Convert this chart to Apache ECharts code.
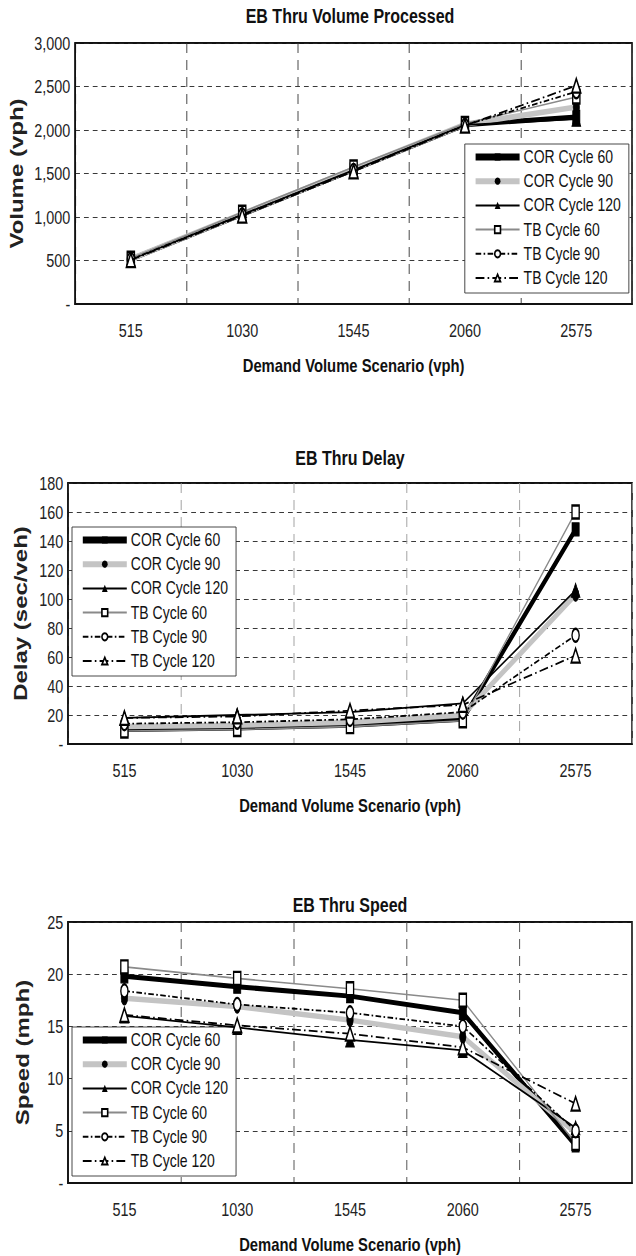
<!DOCTYPE html>
<html><head><meta charset="utf-8">
<script src="https://cdn.jsdelivr.net/npm/echarts@6/dist/echarts.min.js"></script>
<style>
html,body{margin:0;padding:0;overflow:hidden;background:#fff;width:636px;height:1256px}
#wrap{width:636px;height:1256px;overflow:hidden;position:relative}
#chart{width:795px;height:1256px;transform:scaleX(0.8);transform-origin:0 0;position:absolute;left:0;top:0}
</style></head><body><div id="wrap"><div id="chart"></div></div>
<script>
// ---- data ----
const categories = ['515', '1030', '1545', '2060', '2575'];
const seriesNames = ['COR Cycle 60', 'COR Cycle 90', 'COR Cycle 120', 'TB Cycle 60', 'TB Cycle 90', 'TB Cycle 120'];
const chartTitles = ['EB Thru Volume Processed', 'EB Thru Delay', 'EB Thru Speed'];
const yNames = ['Volume (vph)', 'Delay (sec/veh)', 'Speed (mph)'];
const xName = 'Demand Volume Scenario (vph)';
const yMax = [3000, 180, 25];
const yStep = [500, 20, 5];

const volumeCor60  = [515, 1030, 1545, 2060, 2150];
const volumeCor90  = [518, 1035, 1550, 2065, 2265];
const volumeCor120 = [513, 1028, 1540, 2058, 2125];
const volumeTb60   = [525, 1055, 1575, 2075, 2380];
const volumeTb90   = [512, 1025, 1535, 2055, 2440];
const volumeTb120  = [505, 1015, 1525, 2050, 2510];

const delayCor60  = [10, 11, 13, 17, 148];
const delayCor90  = [12, 13, 15, 20, 103];
const delayCor120 = [18, 20, 22, 28, 106];
const delayTb60   = [9, 10, 12, 16, 160];
const delayTb90   = [14, 15, 17, 22, 75];
const delayTb120  = [18, 19, 23, 27, 61];

const speedCor60  = [19.8, 18.8, 17.9, 16.3, 3.6];
const speedCor90  = [17.7, 16.9, 15.6, 14.0, 4.8];
const speedCor120 = [16.0, 14.9, 13.7, 12.7, 5.3];
const speedTb60   = [20.7, 19.6, 18.6, 17.5, 3.8];
const speedTb90   = [18.4, 17.1, 16.3, 15.0, 5.0];
const speedTb120  = [16.1, 15.1, 14.3, 13.0, 7.6];

const chartData = [
  [volumeCor60, volumeCor90, volumeCor120, volumeTb60, volumeTb90, volumeTb120],
  [delayCor60, delayCor90, delayCor120, delayTb60, delayTb90, delayTb120],
  [speedCor60, speedCor90, speedCor120, speedTb60, speedTb90, speedTb120]
];

// ---- styles / layout ----
const FONT = 'Liberation Sans, Arial, sans-serif';
const styles = [
  {line: '#000', width: 5, type: 'solid', symbol: 'rect', size: [9, 13], lw: 7},
  {line: '#c4c4c4', width: 5.5, type: 'solid', symbol: 'circle', size: [8, 13], lw: 6},
  {line: '#000', width: 1.8, type: 'solid', symbol: 'triangle', size: [11, 14], lw: 2},
  {line: '#8a8a8a', width: 1.6, type: 'solid', symbol: 'emptyRect', size: [9, 13], lw: 2},
  {line: '#000', width: 1.8, type: [7, 3, 2, 3], symbol: 'emptyCircle', size: [9, 13], lw: 2},
  {line: '#000', width: 1.8, type: [11, 4, 2, 4], symbol: 'emptyTriangle', size: [11, 14], lw: 2}
];
const gridTops = [43, 483, 922];
const gridH = 261;
const titleY = [16, 458, 905];
const vColors = ['#333', '#999', '#444'];
const legendPos = [{left: 581, top: 144}, {left: 90, top: 527}, {left: 90, top: 1027}];

const fmt = (k) => (v) => {
  if (v === 0) return '-';
  return k === 0 ? v.toLocaleString('en-US') : String(v);
};

const option = {
  backgroundColor: '#fff',
  animation: false,
  title: titleY.map((y, k) => ({
    text: chartTitles[k], left: 437.5, top: y, textAlign: 'center', textVerticalAlign: 'middle', padding: 0,
    textStyle: {fontFamily: FONT, fontSize: 20, fontWeight: 'bold', color: '#111'}
  })),
  grid: gridTops.map(t => ({left: 85, right: 5, top: t, height: gridH, show: true, borderColor: '#111', borderWidth: 2, containLabel: false})),
  xAxis: gridTops.map((t, k) => ({
    type: 'category', gridIndex: k, data: categories, boundaryGap: true,
    name: xName, nameLocation: 'middle', nameGap: 52,
    nameTextStyle: {fontFamily: FONT, fontSize: 18.5, fontWeight: 'bold', color: '#111'},
    axisLine: {show: true, lineStyle: {color: '#111', width: 2}},
    axisTick: {show: false},
    axisLabel: {fontFamily: FONT, fontSize: 18, color: '#222', margin: 17},
    splitLine: {show: true, lineStyle: {color: vColors[k], width: 1, type: [10, 7]}}
  })),
  yAxis: gridTops.map((t, k) => ({
    type: 'value', gridIndex: k, min: 0, max: yMax[k], interval: yStep[k],
    name: yNames[k], nameLocation: 'middle', nameRotate: 90, nameGap: 45,
    nameTextStyle: {fontFamily: FONT, fontSize: 24, fontWeight: 'bold', color: '#222'},
    axisLine: {show: true, lineStyle: {color: '#111', width: 2}},
    axisTick: {show: false},
    axisLabel: {fontFamily: FONT, fontSize: 18, color: '#222', margin: 6, formatter: fmt(k)},
    splitLine: {show: true, lineStyle: {color: '#222', width: 1, type: [6, 5]}}
  })),
  legend: legendPos.map((p, k) => ({
    orient: 'vertical', left: p.left, top: p.top, padding: [4, 10, 6, 10],
    itemWidth: 55, itemHeight: 9, itemGap: 6.2, selectedMode: false,
    borderColor: '#333', borderWidth: 1, backgroundColor: '#fff',
    textStyle: {fontFamily: FONT, fontSize: 17.5, color: '#111', lineHeight: 18},
    data: seriesNames.map((n, i) => ({name: n, lineStyle: {width: styles[i].lw}}))
  })),
  series: []
};

chartData.forEach((set, k) => {
  set.forEach((vals, i) => {
    const s = styles[i];
    option.series.push({
      type: 'line', name: seriesNames[i], xAxisIndex: k, yAxisIndex: k, data: vals,
      symbol: s.symbol, symbolSize: s.size, showSymbol: true,
      lineStyle: {color: s.line, width: s.width, type: s.type},
      itemStyle: {color: '#000', borderColor: '#000'},
      emphasis: {disabled: true}, z: 2 + i
    });
  });
});

const chart = echarts.init(document.getElementById('chart'), null, {renderer: 'svg', width: 795, height: 1256});
chart.setOption(option);
</script></body></html>
